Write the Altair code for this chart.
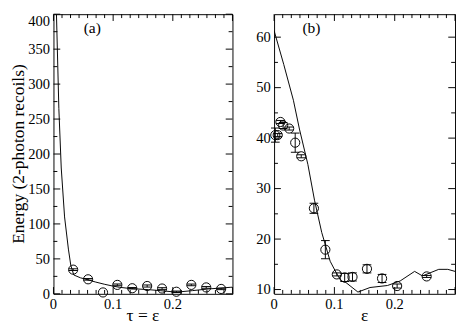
import altair as alt
import pandas as pd

FONT = "Liberation Serif"

# ---------------- panel (a) ----------------
tau_pts = [0.033, 0.058, 0.083, 0.107, 0.132, 0.157, 0.182, 0.206, 0.231, 0.256, 0.281]
energy_a = [34.6, 20.8, 2.0, 12.8, 8.0, 11.2, 7.6, 3.0, 12.8, 9.2, 7.0]
err_a = [1.2, 1.2, 0.0, 1.2, 1.0, 1.5, 1.2, 1.0, 1.2, 1.2, 1.0]

tau_line = [0.005, 0.009, 0.013, 0.0186, 0.025, 0.029, 0.034, 0.045, 0.058, 0.070,
            0.085, 0.100, 0.111, 0.130, 0.159, 0.180, 0.206, 0.233, 0.260, 0.296, 0.300]
energy_line_a = [400, 265, 180, 110, 64, 41, 27, 23, 20, 17,
                 13.8, 11, 9.3, 7.5, 6, 4.5, 2.4, 4.6, 7, 9.3, 9.5]

# ---------------- panel (b) ----------------
eps_pts = [0.002, 0.006, 0.0105, 0.015, 0.025, 0.035, 0.045, 0.066, 0.085,
           0.104, 0.117, 0.130, 0.154, 0.179, 0.204, 0.253]
energy_b = [40.6, 40.6, 43.2, 42.5, 41.9, 39.1, 36.4, 26.1, 17.9,
            13.0, 12.4, 12.5, 14.1, 12.2, 10.7, 12.6]
err_b = [1.4, 0.3, 0.3, 0.6, 0.3, 1.9, 0.3, 1.0, 1.8,
         0.3, 0.8, 0.8, 0.8, 0.8, 0.4, 0.2]

eps_line = [0.000, 0.016, 0.032, 0.042, 0.056, 0.067, 0.079, 0.093, 0.104, 0.111,
            0.119, 0.139, 0.159, 0.188, 0.209, 0.233, 0.246, 0.273, 0.288, 0.300]
energy_line_b = [61.3, 54.6, 47.5, 41.8, 34.8, 27.7, 21.3, 15.6, 13.1, 11.7,
                 11.4, 9.5, 10.4, 10.8, 11.7, 13.6, 12.7, 14.0, 14.0, 13.6]

# ---------------- tick values and labels ----------------
x_labels = [0.0, 0.1, 0.2]
x_label_text = ["0", "0.1", "0.2"]
x_major = [0.0, 0.1, 0.2, 0.3]
x_minor = [k / 70 for k in range(21) if k % 7 != 0]
ya_major = [0, 50, 100, 150, 200, 250, 300, 350, 400]
ya_minor = [25, 75, 125, 175, 225, 275, 325, 375]
yb_major = [10, 20, 30, 40, 50, 60]
yb_minor = [15, 25, 35, 45, 55]

W_A, W_B, H = 185, 187, 289
MAJ, MIN = 7, 4
LBL = 15
TTL = 18


def tick_layers(xs, ys, ymaj, ymin, W):
    layers = []
    for vals, L in ((x_major, MAJ), (x_minor, MIN)):
        base = alt.Chart(pd.DataFrame({"v": vals})).mark_rule(color="black", strokeWidth=1)
        X = alt.X("v:Q", scale=xs, axis=None)
        layers.append(base.encode(x=X, y=alt.value(H), y2=alt.value(H - L)))
        layers.append(base.encode(x=X, y=alt.value(0), y2=alt.value(L)))
    for vals, L in ((ymaj, MAJ), (ymin, MIN)):
        base = alt.Chart(pd.DataFrame({"v": vals})).mark_rule(color="black", strokeWidth=1)
        Y = alt.Y("v:Q", scale=ys, axis=None)
        layers.append(base.encode(y=Y, x=alt.value(0), x2=alt.value(L)))
        layers.append(base.encode(y=Y, x=alt.value(W), x2=alt.value(W - L)))
    return layers


def label_layers(xs, ys, ydom, ymaj, W, xtitle, ytitle):
    layers = []
    inner = [v for v in ymaj if v < ydom[1]]
    edge = [v for v in ymaj if v >= ydom[1]]
    ylab = pd.DataFrame({"v": inner, "t": [str(v) for v in inner]})
    layers.append(alt.Chart(ylab).mark_text(
        font=FONT, fontSize=LBL, color="black", align="right", baseline="middle").encode(
        y=alt.Y("v:Q", scale=ys, axis=None), x=alt.value(-3.5), text="t:N"))
    if edge:
        ytop = pd.DataFrame({"v": edge, "t": [str(v) for v in edge]})
        layers.append(alt.Chart(ytop).mark_text(
            font=FONT, fontSize=LBL, color="black", align="right", baseline="top").encode(
            y=alt.Y("v:Q", scale=ys, axis=None), x=alt.value(-3.5), text="t:N"))
    xlab = pd.DataFrame({"v": x_labels, "t": x_label_text})
    layers.append(alt.Chart(xlab).mark_text(
        font=FONT, fontSize=LBL, color="black", align="center", baseline="top").encode(
        x=alt.X("v:Q", scale=xs, axis=None), y=alt.value(H + 3.5), text="t:N"))
    layers.append(alt.Chart(pd.DataFrame({"t": [xtitle]})).mark_text(
        font=FONT, fontSize=TTL, color="black", align="center", baseline="alphabetic").encode(
        x=alt.value(W / 2), y=alt.value(H + 28), text="t:N"))
    if ytitle:
        layers.append(alt.Chart(pd.DataFrame({"t": [ytitle]})).mark_text(
            font=FONT, fontSize=TTL, color="black", align="center", baseline="alphabetic",
            angle=270).encode(
            x=alt.value(-30), y=alt.value(H / 2), text="t:N"))
    return layers


def panel(xp, yp, errp, xl, yl, ydom, ymaj, ymin, W, xtitle, ytitle, tag, tagpos):
    xs = alt.Scale(domain=[0, 0.3], nice=False, zero=False)
    ys = alt.Scale(domain=ydom, nice=False, zero=False)
    pts = pd.DataFrame({"x": xp, "y": yp, "e": errp})
    pts["lo"] = pts["y"] - pts["e"]
    pts["hi"] = pts["y"] + pts["e"]
    eb = pts[pts["e"] > 0]
    line_df = pd.DataFrame({"x": xl, "y": yl})

    X = alt.X("x:Q", scale=xs, axis=None)
    line = alt.Chart(line_df).mark_line(color="black", strokeWidth=1, clip=True).encode(
        x=X, y=alt.Y("y:Q", scale=ys, axis=None))
    bars = alt.Chart(eb).mark_rule(color="black", strokeWidth=1).encode(
        x=X, y=alt.Y("lo:Q", scale=ys, axis=None), y2="hi:Q")
    cap_lo = alt.Chart(eb).mark_tick(orient="horizontal", size=9, thickness=1, color="black",
                                     opacity=1).encode(
        x=X, y=alt.Y("lo:Q", scale=ys, axis=None))
    cap_hi = alt.Chart(eb).mark_tick(orient="horizontal", size=9, thickness=1, color="black",
                                     opacity=1).encode(
        x=X, y=alt.Y("hi:Q", scale=ys, axis=None))
    circles = alt.Chart(pts).mark_point(shape="circle", size=90, filled=False, color="black",
                                        strokeWidth=1, opacity=1).encode(
        x=X, y=alt.Y("y:Q", scale=ys, axis=None))
    label = alt.Chart(pd.DataFrame({"t": [tag]})).mark_text(
        font=FONT, fontSize=16, color="black", align="center", baseline="middle").encode(
        x=alt.datum(tagpos[0], scale=xs, axis=None),
        y=alt.datum(tagpos[1], scale=ys, axis=None), text="t:N")

    layers = [line] + tick_layers(xs, ys, ymaj, ymin, W) + \
             [bars, cap_lo, cap_hi, circles, label] + \
             label_layers(xs, ys, ydom, ymaj, W, xtitle, ytitle)
    return alt.layer(*layers).properties(width=W, height=H)


pa = panel(tau_pts, energy_a, err_a, tau_line, energy_line_a, [0, 400], ya_major, ya_minor,
           W_A, "τ = ε", "Energy (2-photon recoils)", "(a)", (0.065, 380))
pb = panel(eps_pts, energy_b, err_b, eps_line, energy_line_b, [9.15, 64.55], yb_major, yb_minor,
           W_B, "ε", None, "(b)", (0.062, 61.8))

chart = alt.hconcat(pa, pb, spacing=23).properties(
    padding={"left": 2, "top": 0, "right": 0, "bottom": 0}, background="white"
).configure_view(
    stroke="black", strokeWidth=1
)

chart.save("out.html", embed_options={"renderer": "svg", "actions": False})
